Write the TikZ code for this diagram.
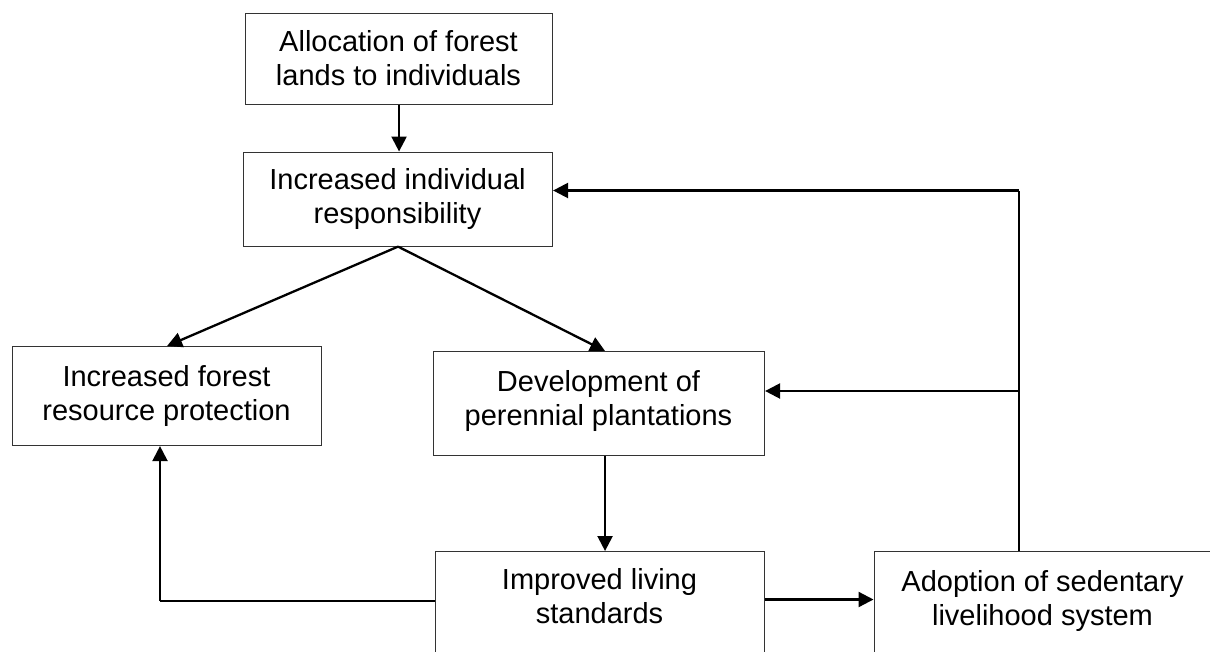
\documentclass[tikz,border=0pt]{standalone}
\usepackage{fontspec}
\setmainfont{Liberation Sans}
\usetikzlibrary{arrows.meta}
\begin{document}
\begin{tikzpicture}[x=1pt,y=-1pt,
  box/.style={draw=black!80, line width=1.1pt, inner sep=0pt, anchor=north west},
  txt/.style={font=\fontsize{29}{34}\selectfont, align=center, inner sep=0pt, anchor=north},
  arr/.style={-{Triangle[length=15pt,width=15pt]}, line width=2.3pt},
  thinline/.style={line width=1.2pt}]
\useasboundingbox (0,0) rectangle (1210,651);
\clip (0,0) rectangle (1210,651);
% boxes
\node[box, minimum width=307pt, minimum height=91pt] (A) at (245,12.5) {};
\node[box, minimum width=309pt, minimum height=94pt] (B) at (243,151.5) {};
\node[box, minimum width=309pt, minimum height=99pt] (C) at (12,346) {};
\node[box, minimum width=331pt, minimum height=104pt] (D) at (433,351) {};
\node[box, minimum width=329pt, minimum height=120pt] (E) at (435,551) {};
\node[box, minimum width=340pt, minimum height=120pt] (F) at (873.5,551) {};
% texts
\node[txt] (At) at (398.5,30) {Allocation of forest\\lands to individuals};
\node[txt] (Bt) at (397.5,168) {Increased individual\\responsibility};
\node[txt] (Ct) at (166.5,365) {Increased forest\\resource protection};
\node[txt] (Dt) at (598.5,370) {Development of\\perennial plantations};
\node[txt] (Et) at (599.5,568) {Improved living\\standards};
\node[txt] (Ft) at (1042.5,570) {Adoption of sedentary\\livelihood system};
% connectors
\draw[arr] (A.south) -- (A.south |- B.north);
\draw[arr] (B.south) -- (C.north);
\draw[arr] (B.south) -- ([xshift=6pt]D.north);
\draw[arr] ([xshift=6pt]D.south) -- ([xshift=6pt]D.south |- E.north);
\coordinate (cE) at (160,601);
\draw[thinline] (E.west |- cE) -- (cE);
\draw[arr] (cE) -- (cE |- C.south);
\coordinate (ef) at (766,599.5);
\draw[arr] (E.east |- ef) -- (F.west |- ef);
\coordinate (top) at (1019,190.5);
\coordinate (mid) at (1019,391);
\draw[thinline] (top |- F.north) -- (top);
\draw[arr] (top) -- (B.east |- top);
\draw[arr] (mid) -- (D.east |- mid);
\end{tikzpicture}
\end{document}
